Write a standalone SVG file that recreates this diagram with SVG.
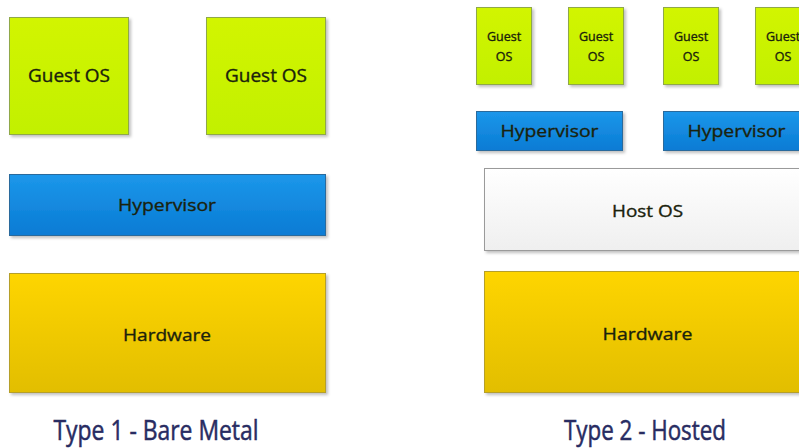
<svg xmlns="http://www.w3.org/2000/svg" width="799" height="448" viewBox="0 0 799 448">
  <defs>
    <linearGradient id="gGuest" x1="0" y1="0" x2="0" y2="1">
      <stop offset="0" stop-color="#d2f500"/>
      <stop offset="1" stop-color="#c2f000"/>
    </linearGradient>
    <linearGradient id="gHyper" x1="0" y1="0" x2="0" y2="1">
      <stop offset="0" stop-color="#1c97ea"/>
      <stop offset="1" stop-color="#0a7bd4"/>
    </linearGradient>
    <linearGradient id="gHard" x1="0" y1="0" x2="0" y2="1">
      <stop offset="0" stop-color="#fed500"/>
      <stop offset="1" stop-color="#e2be00"/>
    </linearGradient>
    <linearGradient id="gHost" x1="0" y1="0" x2="0" y2="1">
      <stop offset="0" stop-color="#ffffff"/>
      <stop offset="1" stop-color="#efefef"/>
    </linearGradient>
    <filter id="shadow" x="-5%" y="-5%" width="115%" height="120%">
      <feDropShadow dx="2" dy="2" stdDeviation="1.5" flood-color="#000" flood-opacity="0.25"/>
    </filter>
  </defs>
  <style>
    .guest { fill: url(#gGuest); stroke: #8fa84a; stroke-width: 1; filter: url(#shadow); }
    .hyper { fill: url(#gHyper); stroke: #2c6a9c; stroke-width: 1; filter: url(#shadow); }
    .hard { fill: url(#gHard); stroke: #b59f2a; stroke-width: 1; filter: url(#shadow); }
    .host { fill: url(#gHost); stroke: #9a9a9a; stroke-width: 1; filter: url(#shadow); }
    .lbl { font-family: "Open Sans", "DejaVu Sans", sans-serif; fill: #1a220c; stroke: #1a220c; stroke-width: 0.35; text-anchor: middle; }
    .big { font-size: 18px; }
    .mid { font-size: 17px; }
    .small { font-size: 12.5px; }
    .caption { font-family: "Open Sans", "Liberation Sans", sans-serif; font-size: 26.5px; fill: #282c62; stroke: #282c62; stroke-width: 0.5; text-anchor: middle; }
  </style>
  <rect width="799" height="448" fill="#ffffff"/>

  <!-- Type 1: bare metal stack -->
  <g id="t1-guest1">
    <rect class="guest" x="9.5" y="17.5" width="119" height="117"/>
    <text class="lbl big" x="69" y="82" textLength="82" lengthAdjust="spacingAndGlyphs">Guest OS</text>
  </g>
  <g id="t1-guest2">
    <rect class="guest" x="206.5" y="17.5" width="119" height="117"/>
    <text class="lbl big" x="266" y="82" textLength="82" lengthAdjust="spacingAndGlyphs">Guest OS</text>
  </g>
  <g id="t1-hypervisor">
    <rect class="hyper" x="9.5" y="174.5" width="316" height="61"/>
    <text class="lbl mid" x="167" y="211" textLength="98" lengthAdjust="spacingAndGlyphs">Hypervisor</text>
  </g>
  <g id="t1-hardware">
    <rect class="hard" x="9.5" y="273.5" width="316" height="119"/>
    <text class="lbl mid" x="167" y="341" textLength="88" lengthAdjust="spacingAndGlyphs">Hardware</text>
  </g>
  <text class="caption" x="156" y="440" textLength="205" lengthAdjust="spacingAndGlyphs">Type 1 - Bare Metal</text>

  <!-- Type 2: hosted stack -->
  <g id="t2-guest1">
    <rect class="guest" x="476.5" y="7.5" width="55" height="77"/>
    <text class="lbl small" x="504" y="41">Guest</text>
    <text class="lbl small" x="504" y="61">OS</text>
  </g>
  <g id="t2-guest2">
    <rect class="guest" x="568.5" y="7.5" width="55" height="77"/>
    <text class="lbl small" x="596" y="41">Guest</text>
    <text class="lbl small" x="596" y="61">OS</text>
  </g>
  <g id="t2-guest3">
    <rect class="guest" x="663.5" y="7.5" width="55" height="77"/>
    <text class="lbl small" x="691" y="41">Guest</text>
    <text class="lbl small" x="691" y="61">OS</text>
  </g>
  <g id="t2-guest4">
    <rect class="guest" x="755.5" y="7.5" width="55" height="77"/>
    <text class="lbl small" x="783" y="41">Guest</text>
    <text class="lbl small" x="783" y="61">OS</text>
  </g>
  <g id="t2-hypervisor1">
    <rect class="hyper" x="476.5" y="111.5" width="146" height="39"/>
    <text class="lbl mid" x="549.5" y="137" textLength="98" lengthAdjust="spacingAndGlyphs">Hypervisor</text>
  </g>
  <g id="t2-hypervisor2">
    <rect class="hyper" x="663.5" y="111.5" width="146" height="39"/>
    <text class="lbl mid" x="736.5" y="137" textLength="98" lengthAdjust="spacingAndGlyphs">Hypervisor</text>
  </g>
  <g id="t2-hostos">
    <rect class="host" x="484.5" y="168.5" width="327" height="82"/>
    <text class="lbl mid" x="647.5" y="217" textLength="71" lengthAdjust="spacingAndGlyphs">Host OS</text>
  </g>
  <g id="t2-hardware">
    <rect class="hard" x="484.5" y="271.5" width="327" height="121"/>
    <text class="lbl mid" x="647.5" y="340" textLength="90" lengthAdjust="spacingAndGlyphs">Hardware</text>
  </g>
  <text class="caption" x="645" y="440" textLength="162" lengthAdjust="spacingAndGlyphs">Type 2 - Hosted</text>

  <!-- connectors: none drawn in this layered view -->
  <g id="connectors"/>
</svg>
